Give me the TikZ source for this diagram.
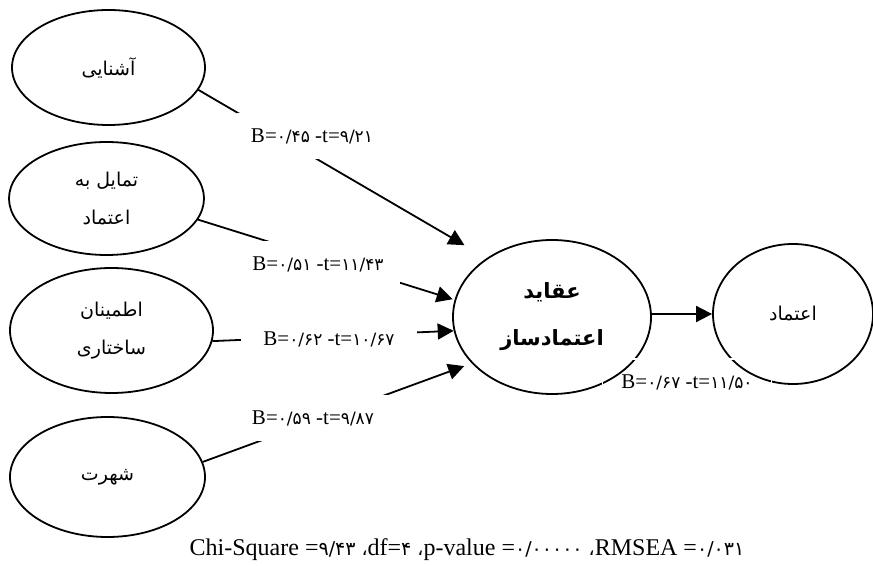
\documentclass[tikz,border=0pt]{standalone}
\usepackage{fontspec}
\setmainfont{Liberation Serif}
\newfontfamily\fa[Script=Arabic]{DejaVu Sans}
\TeXXeTstate=1
\usetikzlibrary{arrows.meta,shapes.geometric}
\newcommand{\fd}[1]{{\fa\fontsize{8.5}{10}\selectfont #1}}

\begin{document}
\begin{tikzpicture}[x=0.5pt,y=-0.5pt,>={Triangle[length=8pt,width=8pt]},line width=0.9pt,
  latent/.style={draw,ellipse,inner sep=0pt,align=center,font=\fa\fontsize{9.5}{19}\selectfont},
  coef/.style={fill=white,minimum width=75pt,minimum height=23pt,inner sep=0pt,font=\fontsize{10.5}{12}\selectfont}]
  \useasboundingbox (0,0) rectangle (873,566);
  \node[latent,minimum width=96.5pt,minimum height=57.5pt] (x1) at (108.5,67.5) {\beginR آشنایی\endR};
  \node[latent,minimum width=97.5pt,minimum height=56.5pt] (x2) at (106.5,198.5) {\beginR تمایل به\endR\\\beginR اعتماد\endR};
  \node[latent,minimum width=101.5pt,minimum height=62.5pt] (x3) at (111.5,330.5) {\beginR اطمینان\endR\\\beginR ساختاری\endR};
  \node[latent,minimum width=97.5pt,minimum height=60pt] (x4) at (107.5,477) {\beginR شهرت\endR};
  \node[latent,minimum width=99pt,minimum height=77pt,font=\fa\bfseries\fontsize{10.5}{23.5}\selectfont] (m) at (552,317) {\beginR عقاید\endR\\\beginR اعتمادساز\endR};
  \node[latent,minimum width=80pt,minimum height=70pt] (y) at (793,314) {\beginR اعتماد\endR};
  \draw[->,shorten >=12.8pt] (x1.-14) -- (m.138);
  \draw[->,shorten >=1pt] (x2.-13) -- (m.170);
  \draw[->] (x3.-6) -- (m.188);
  \draw[->,shorten >=4pt] (x4.9) -- (m.210);
  \draw[->] (m.east |- y) -- (y.west);
  \node[coef] (b1) at (312,136) {B=\fd{۰/۴۵} -t=\fd{۹/۲۱}};
  \node[coef,minimum width=82pt] (b2) at (318,264) {B=\fd{۰/۵۱} -t=\fd{۱۱/۴۳}};
  \node[coef,minimum width=88pt] (b3) at (329,339) {B=\fd{۰/۶۲} -t=\fd{۱۰/۶۷}};
  \node[coef] (b4) at (313,418) {B=\fd{۰/۵۹} -t=\fd{۹/۸۷}};
  \node[coef,fill=none,draw=white,minimum width=84.5pt] (b5) at (687,382) {B=\fd{۰/۶۷} -t=\fd{۱۱/۵۰}};
  \node[font=\fontsize{12}{14}\selectfont] (fit) at (467,550) {Chi-Square =\fd{\fontsize{9.5}{11}\selectfont ۹/۴۳} \fd{\fontsize{9.5}{11}\selectfont ،}df=\fd{\fontsize{9.5}{11}\selectfont ۴} \fd{\fontsize{9.5}{11}\selectfont ،}p-value =\fd{\fontsize{9.5}{11}\selectfont ۰/۰۰۰۰۰} \fd{\fontsize{9.5}{11}\selectfont ،}RMSEA =\fd{\fontsize{9.5}{11}\selectfont ۰/۰۳۱}};
\end{tikzpicture}
\end{document}
